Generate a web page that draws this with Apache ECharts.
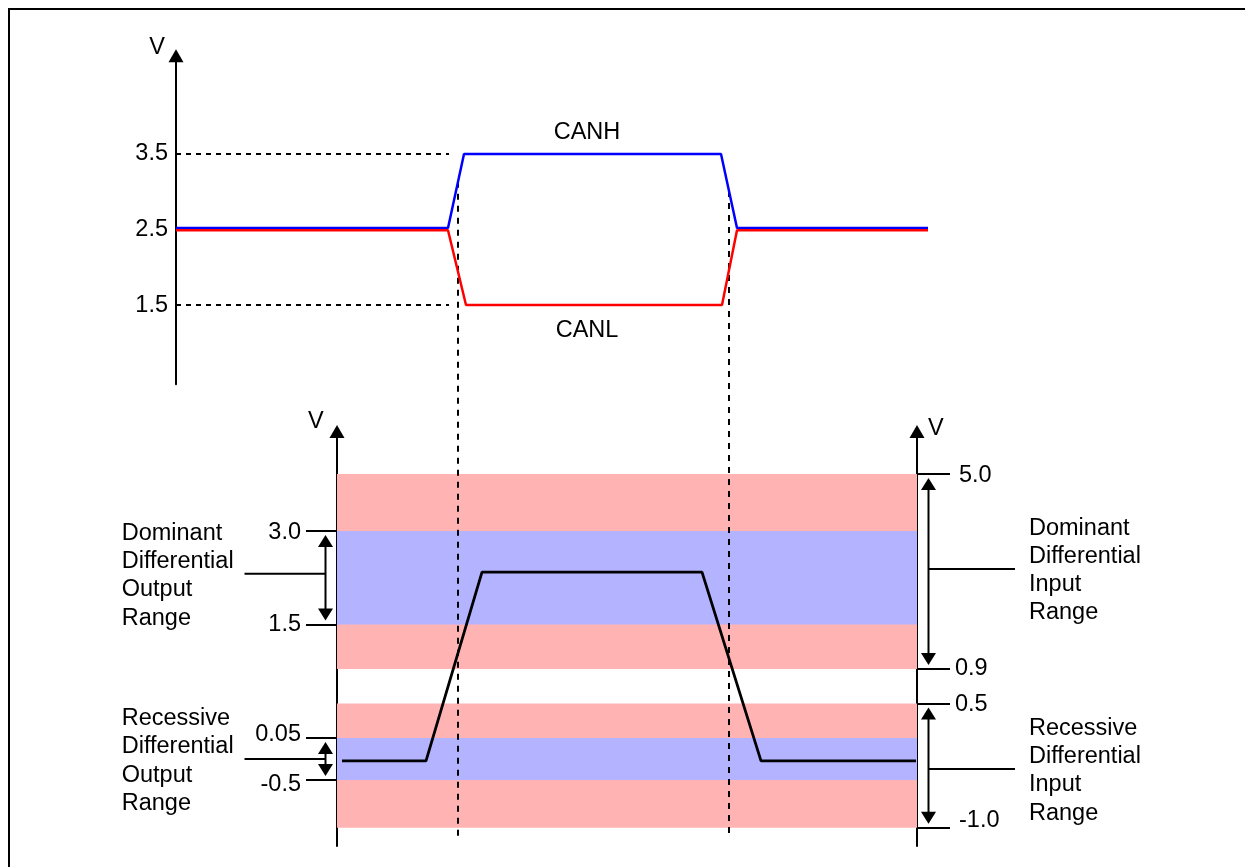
<!DOCTYPE html>
<html><head><meta charset="utf-8">
<script src="https://cdn.jsdelivr.net/npm/echarts@6.0.0/dist/echarts.min.js"></script>
<style>html,body{margin:0;padding:0;background:#fff}#c{width:1245px;height:867px}</style>
</head><body><div id="c"></div>
<script>
// ================= DATA =================
// Upper diagram: bus voltages over time (time in arbitrary units)
const canhTime  = [0, 27.2, 28.8, 54.5, 56.1, 75.2];
const canhVolts = [2.52, 2.52, 3.5, 3.5, 2.52, 2.52];
const canlTime  = [0, 27.2, 29.0, 54.6, 56.1, 75.2];
const canlVolts = [2.49, 2.49, 1.5, 1.5, 2.49, 2.49];
const topTickValues = [1.5, 2.5, 3.5];
const refVolts = [3.5, 1.5];            // dashed reference levels
const refEndTime = 27.3;
const crossTimes = [28.2, 55.3];        // vertical dashed guides
const seriesNames = ['CANH', 'CANL'];
const nameTime = 41.1;

// Lower diagram: differential voltage (schematic, volts)
const diffTime  = [16.6, 25.0, 30.6, 52.6, 58.5, 74.0];
const diffVolts = [-0.25, -0.25, 2.34, 2.34, -0.25, -0.25];

const outputRanges = [[1.5, 3.0], [-0.5, 0.05]];
const outputNames  = ['Dominant\nDifferential\nOutput\nRange', 'Recessive\nDifferential\nOutput\nRange'];
const inputRanges  = [[0.9, 5.0], [-1.0, 0.5]];
const inputNames   = ['Dominant\nDifferential\nInput\nRange', 'Recessive\nDifferential\nInput\nRange'];
const leftTickLabels  = ['3.0', '1.5', '0.05', '-0.5'];
const rightTickLabels = ['5.0', '0.9', '0.5', '-1.0'];

// ================= SCHEMATIC SCALE (lower diagram is not drawn to scale) =================
const schematicVolts  = [-1.0, -0.5, 0.05, 0.5, 0.9, 1.5, 3.0, 5.0];
const schematicLevels = [1.83, 6.6, 10.8, 14.25, 17.7, 22.15, 31.5, 37.2];
function lvl(v) {
  const V = schematicVolts, L = schematicLevels;
  let i = 0;
  while (i < V.length - 2 && v > V[i + 1]) i++;
  return L[i] + (v - V[i]) * (L[i + 1] - L[i]) / (V[i + 1] - V[i]);
}
function canhAt(t) {
  for (let i = 0; i < canhTime.length - 1; i++) {
    if (t >= canhTime[i] && t <= canhTime[i + 1])
      return canhVolts[i] + (t - canhTime[i]) * (canhVolts[i + 1] - canhVolts[i]) / (canhTime[i + 1] - canhTime[i]);
  }
  return canhVolts[canhVolts.length - 1];
}

// ================= STYLE =================
const FONT = '"Liberation Sans", Arial, sans-serif';
const FS = 23.5;
const PINK = '#FFB3B3', BLUE = '#B3B3FF';
const GUIDE_BOTTOM = -5.54; // guides run down through the lower diagram
const txt = { fontSize: FS, fontFamily: FONT, color: '#000' };
const labelNudge = {
  '3.0': [3, 0, 0, 0], '1.5': [0, 0, 0, 0], '0.05': [0, 0, 6, 0], '-0.5': [10, 0, 0, 0],
  '5.0': [3, 0, 0, 4], '0.9': [0, 0, 0, 0], '0.5': [3, 0, 0, 0], '-1.0': [0, 0, 14, 4]
};
const connectorNudge = [-4, 0, -2.5, 3.5]; // per bracket, px
function tickFormatter(labels) {
  return function (val) {
    let best = labels[0], d = 1e9;
    labels.forEach(s => { const dd = Math.abs(lvl(parseFloat(s)) - val); if (dd < d) { d = dd; best = s; } });
    const k = 'k' + labels.indexOf(best);
    return '{' + k + '|' + best + '}';
  };
}
function richFor(labels) {
  const r = {};
  labels.forEach((s, i) => { r['k' + i] = Object.assign({}, txt, { padding: labelNudge[s] || [0, 0, 0, 0] }); });
  return r;
}
const axisArrow = { show: true, onZero: false, symbol: ['none', 'triangle'], symbolSize: [15, 13], lineStyle: { color: '#000', width: 2 } };

const bracketRanges = outputRanges.map(r => [r[0], r[1], 0]).concat(inputRanges.map(r => [r[0], r[1], 1]));
const bracketNames = outputNames.concat(inputNames);

const option = {
  animation: false,
  backgroundColor: '#fff',
  graphic: [{
    type: 'polyline', shape: { points: [[9, 867], [9, 9], [1245, 9]] },
    style: { stroke: '#000', lineWidth: 2, fill: null }
  }],
  grid: [
    { left: 176, top: 55.85, width: 752, height: 328.45 },
    { left: 337, top: 431.5, width: 580, height: 414.5 }
  ],
  xAxis: [
    { gridIndex: 0, type: 'value', min: 0, max: 75.2, show: false },
    { gridIndex: 1, type: 'value', min: 16.1, max: 74.1, show: false }
  ],
  yAxis: [
    {
      gridIndex: 0, type: 'value', min: 0.45, max: 4.8,
      name: 'V', nameLocation: 'end', nameGap: 8,
      nameTextStyle: Object.assign({}, txt, { align: 'right', verticalAlign: 'middle', padding: [0, 11, 0, 0] }),
      axisLine: axisArrow, axisTick: { show: false }, splitLine: { show: false },
      axisLabel: Object.assign({}, txt, { customValues: topTickValues, margin: 8, formatter: v => v.toFixed(1) })
    },
    {
      gridIndex: 1, type: 'value', position: 'left', min: 0, max: 41.45,
      name: 'V', nameLocation: 'end', nameGap: 9.5,
      nameTextStyle: Object.assign({}, txt, { align: 'right', verticalAlign: 'middle', padding: [0, 13.4, 0, 0] }),
      axisLine: axisArrow, splitLine: { show: false },
      axisTick: { show: true, customValues: leftTickLabels.map(s => lvl(parseFloat(s))), length: 31, lineStyle: { color: '#000', width: 2 } },
      axisLabel: Object.assign({}, txt, { customValues: leftTickLabels.map(s => lvl(parseFloat(s))), margin: 36, formatter: tickFormatter(leftTickLabels), rich: richFor(leftTickLabels) })
    },
    {
      gridIndex: 1, type: 'value', position: 'right', min: 0, max: 41.45,
      name: 'V', nameLocation: 'end', nameGap: 3,
      nameTextStyle: Object.assign({}, txt, { align: 'left', verticalAlign: 'middle', padding: [0, 0, 0, 11] }),
      axisLine: axisArrow, splitLine: { show: false },
      axisTick: { show: true, customValues: rightTickLabels.map(s => lvl(parseFloat(s))), length: 33, lineStyle: { color: '#000', width: 2 } },
      axisLabel: Object.assign({}, txt, { customValues: rightTickLabels.map(s => lvl(parseFloat(s))), margin: 38, formatter: tickFormatter(rightTickLabels), rich: richFor(rightTickLabels) })
    }
  ],
  series: [
    // coloured range bands
    {
      type: 'line', xAxisIndex: 1, yAxisIndex: 1, data: [], z: 1, silent: true,
      markArea: {
        silent: true, label: { show: false },
        data: inputRanges.map(r => [{ yAxis: lvl(r[1]), itemStyle: { color: PINK, opacity: 1 } }, { yAxis: lvl(r[0]) }])
          .concat(outputRanges.map(r => [{ yAxis: lvl(r[1]), itemStyle: { color: BLUE, opacity: 1 } }, { yAxis: lvl(r[0]) }]))
      }
    },
    // dashed reference levels
    ...refVolts.map(v => ({
      type: 'line', xAxisIndex: 0, yAxisIndex: 0, symbol: 'none', silent: true, z: 3,
      lineStyle: { color: '#000', width: 1.8, type: [5, 5] },
      data: [[0, v], [refEndTime, v]]
    })),
    // vertical guides through both diagrams
    ...crossTimes.map(t => ({
      type: 'line', xAxisIndex: 0, yAxisIndex: 0, symbol: 'none', silent: true, z: 3, clip: false,
      lineStyle: { color: '#000', width: 2, type: [6, 6] },
      data: [[t, canhAt(t)], [t, GUIDE_BOTTOM]]
    })),
    {
      name: seriesNames[0], type: 'line', xAxisIndex: 0, yAxisIndex: 0, symbol: 'none', z: 4,
      lineStyle: { color: '#0000FF', width: 2.5 },
      data: canhTime.map((t, i) => [t, canhVolts[i]]),
      markPoint: {
        symbol: 'circle', symbolSize: 1, itemStyle: { color: 'rgba(0,0,0,0)' },
        label: Object.assign({}, txt, { show: true, position: 'top', distance: 8.5, formatter: '{b}' }),
        data: [{ name: seriesNames[0], coord: [nameTime, canhVolts[2]] }]
      }
    },
    {
      name: seriesNames[1], type: 'line', xAxisIndex: 0, yAxisIndex: 0, symbol: 'none', z: 4,
      lineStyle: { color: '#FF0000', width: 2.5 },
      data: canlTime.map((t, i) => [t, canlVolts[i]]),
      markPoint: {
        symbol: 'circle', symbolSize: 1, itemStyle: { color: 'rgba(0,0,0,0)' },
        label: Object.assign({}, txt, { show: true, position: 'bottom', distance: 12.6, formatter: '{b}' }),
        data: [{ name: seriesNames[1], coord: [nameTime, canlVolts[2]] }]
      }
    },
    // differential voltage
    {
      type: 'line', xAxisIndex: 1, yAxisIndex: 1, symbol: 'none', z: 5, silent: true,
      lineStyle: { color: '#000', width: 2.8 },
      data: diffTime.map((t, i) => [t, lvl(diffVolts[i])])
    },
    // range brackets with labels
    {
      type: 'custom', xAxisIndex: 1, yAxisIndex: 1, z: 6, clip: false, silent: true,
      data: bracketRanges,
      renderItem: function (params, api) {
        const cs = params.coordSys;
        const side = api.value(2);
        const yA = api.coord([cs.x, lvl(api.value(1))])[1];
        const yB = api.coord([cs.x, lvl(api.value(0))])[1];
        const axisX = side === 0 ? cs.x : cs.x + cs.width;
        const dir = side === 0 ? -1 : 1;
        const ax = axisX + dir * 11.5;
        const inset = 4, hw = 7.5, hh = 12;
        const t1 = yA + inset, t2 = yB - inset;
        const cy = (t1 + t2) / 2 + connectorNudge[params.dataIndex];
        const connEnd = side === 0 ? axisX - 92.5 : axisX + 98;
        const textX = side === 0 ? axisX - 215.3 : axisX + 112;
        const textY = cy + (side === 0 ? 2 : 1.5);
        return {
          type: 'group', children: [
            { type: 'line', shape: { x1: ax, y1: t1 + hh - 1, x2: ax, y2: t2 - hh + 1 }, style: { stroke: '#000', lineWidth: 2 } },
            { type: 'polygon', shape: { points: [[ax, t1], [ax - hw, t1 + hh], [ax + hw, t1 + hh]] }, style: { fill: '#000' } },
            { type: 'polygon', shape: { points: [[ax, t2], [ax - hw, t2 - hh], [ax + hw, t2 - hh]] }, style: { fill: '#000' } },
            { type: 'line', shape: { x1: ax, y1: cy, x2: connEnd, y2: cy }, style: { stroke: '#000', lineWidth: 2 } },
            { type: 'text', x: textX, y: textY, style: { text: bracketNames[params.dataIndex], fontSize: FS, fontFamily: FONT, fill: '#000', align: 'left', verticalAlign: 'middle', lineHeight: 28.3 } }
          ]
        };
      }
    }
  ]
};
const chart = echarts.init(document.getElementById('c'), null, { renderer: 'canvas' });
chart.setOption(option);
</script></body></html>
